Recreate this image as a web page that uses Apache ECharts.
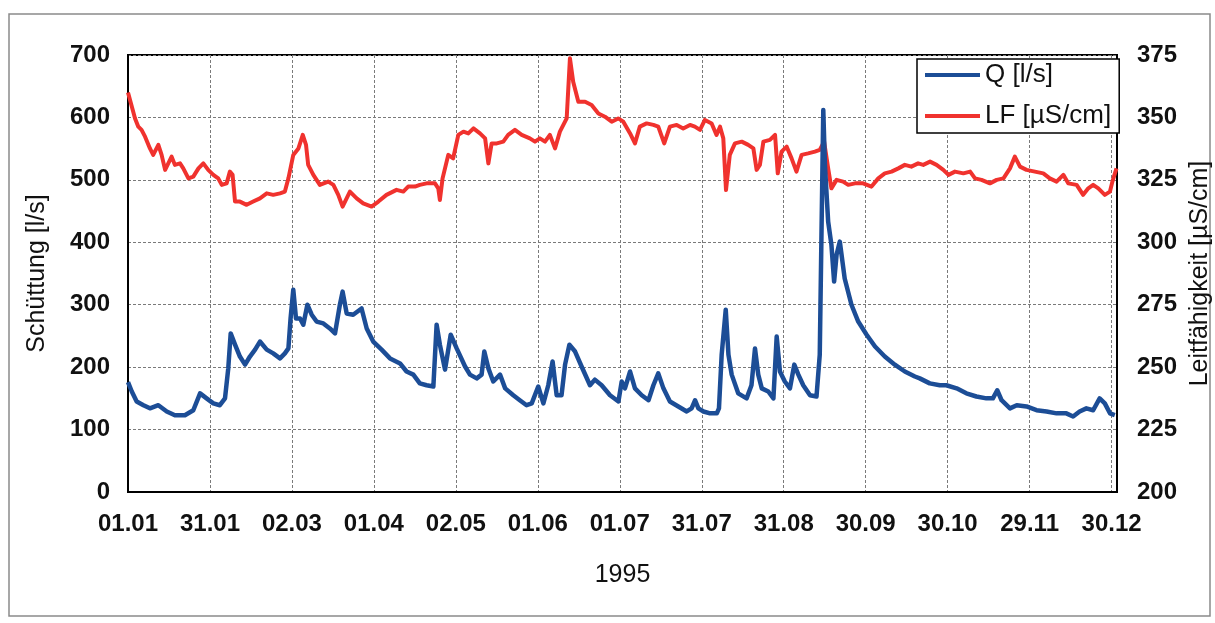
<!DOCTYPE html>
<html>
<head>
<meta charset="utf-8">
<title>Schüttung und Leitfähigkeit 1995</title>
<script src="https://cdn.jsdelivr.net/npm/echarts@6/dist/echarts.min.js"></script>
<style>
  html, body { margin: 0; padding: 0; background: #fff; }
  #chart { width: 1215px; height: 623px; }
</style>
</head>
<body>
<div id="chart"></div>
<script>
var qDays = [0, 1.4, 3.2, 5.7, 8.1, 11.2, 14.3, 17.3, 21, 24.1, 26.6, 29, 31.5, 33.9, 35.8, 37, 37.9, 39.5, 41.3, 43.2,
  45, 46.9, 48.7, 51.2, 53.6, 56.1, 57.9, 59.2, 60, 61, 62, 63.5, 64.7, 66.2, 67.8, 69.6, 72.1, 74.5, 76.4, 78.2,
  79.2, 80.7, 83.1, 86.2, 88.1, 90.5, 93.6, 96.7, 100.4, 102.8, 105.3, 107.7, 110.2, 112.7, 113.9, 115.1, 117, 119.1, 121.3, 124.4,
  126.2, 128.7, 130.5, 131.5, 133, 134.8, 137.3, 139.2, 142.2, 144.6, 147.1, 149, 151.4, 153.3, 155.1, 156.7, 158.2, 160, 161.3, 162.9,
  165, 167.4, 170.5, 172.3, 174.8, 177.9, 181, 182.2, 183.4, 185.3, 187.1, 189.6, 192.1, 193.9, 195.7, 197.6, 200, 203.1, 206.2, 208,
  209.3, 210.5, 212.4, 214.8, 217.3, 218.1, 219.1, 220.6, 221.6, 222.8, 225.2, 228.3, 230.1, 231.4, 232.6, 233.9, 236.3, 238.2, 239.4, 240.6,
  242.4, 244.3, 245.9, 247.4, 249.2, 251.7, 254.1, 255.3, 256, 256.6, 257.2, 258.4, 259.6, 260.6, 261.5, 262.7, 264.5, 267, 269.5, 272.6,
  275.7, 279.3, 283, 286.7, 290.4, 292.2, 295.9, 299.6, 302, 305.8, 309.4, 313.1, 316.8, 319.2, 320.8, 322.4, 325.5, 328, 331.6, 335.3,
  339, 342.7, 346.3, 348.8, 351.2, 353.7, 356.2, 358.6, 360.5, 362.4, 364.2];
var qValues = [176, 161, 145, 139, 134, 139, 129, 123, 123, 131, 158, 150, 142, 139, 150, 198, 254, 236, 217, 204,
  217, 228, 241, 228, 222, 214, 222, 230, 278, 324, 278, 278, 268, 300, 284, 273, 270, 262, 254, 300,
  321, 286, 284, 294, 262, 241, 228, 214, 206, 193, 188, 174, 171, 169, 268, 236, 196, 252, 230, 201,
  188, 182, 188, 225, 198, 177, 188, 166, 155, 147, 139, 142, 169, 142, 171, 209, 155, 155, 204, 236,
  225, 201, 171, 180, 171, 155, 145, 177, 166, 193, 166, 155, 147, 171, 190, 166, 145, 137, 129, 134,
  147, 134, 129, 126, 126, 134, 220, 292, 220, 188, 158, 150, 171, 230, 188, 166, 161, 150, 249, 193,
  177, 166, 204, 188, 171, 155, 153, 220, 433, 612, 524, 433, 396, 337, 380, 401, 342, 300, 273, 252,
  233, 217, 204, 193, 185, 182, 174, 171, 171, 166, 158, 153, 150, 150, 163, 147, 134, 139, 137, 131,
  129, 126, 126, 121, 129, 134, 131, 150, 142, 126, 123];

var lfDays = [0, 0.7, 2.6, 3.8, 5, 6.3, 8.1, 9.3, 11.2, 12.4, 13.7, 16.1, 17.3, 19.2, 20.4, 22.3, 24.1, 26, 27.8, 29.6,
  31.5, 33.3, 34.6, 36.4, 37.6, 38.6, 39.5, 41.3, 43.8, 46.2, 48.7, 51.2, 53.6, 56.1, 57.9, 59.2, 61, 62.9, 64.5, 65.7,
  66.5, 68.4, 70.8, 73.9, 75.8, 77.6, 79.2, 81.9, 84.4, 86.8, 89.9, 92.4, 95.4, 99.1, 101.6, 103.4, 105.9, 107.7, 110.2, 113.3,
  114.5, 115.1, 116.1, 118.2, 120, 121.9, 123.8, 125.6, 127.5, 129.9, 131.8, 133, 134.2, 136.1, 138.5, 140.3, 142.8, 145.3, 148.3, 150.2,
  152, 153.9, 155.7, 157.6, 159.4, 161.9, 163.1, 164.3, 166.2, 168.7, 171.1, 173.6, 176, 178.5, 180.9, 182.8, 185.3, 187.1, 188.9, 191.4,
  193.9, 195.7, 197.9, 200, 202.5, 204.9, 207.4, 209.2, 211.1, 212.9, 215.4, 217.2, 218.5, 219.7, 220.7, 222.1, 224, 226.5, 228.9, 230.8,
  232, 233.2, 234.5, 236.9, 238.8, 239.8, 241.2, 243.1, 244.9, 246.7, 248.6, 251, 253.5, 255.3, 256.9, 258.4, 259.6, 261.5, 263.9, 265.8,
  268.3, 271.3, 274.4, 276.9, 279.3, 281.8, 284.3, 286.7, 289.1, 291.6, 293.5, 296, 298.4, 300.9, 302.8, 305.2, 308.3, 310.8, 312.6, 315,
  318.1, 320.6, 323.1, 325.5, 327.3, 329.2, 331.6, 334.7, 337.8, 340.2, 342.7, 345.2, 347, 350.1, 352.5, 354.4, 356.2, 358.1, 360.5, 362.4,
  363.3, 364.8];
var lfValues = [360, 360, 349.6, 346.3, 345, 342.3, 337.6, 335, 339, 335, 329, 334.3, 331, 331.6, 329.6, 325.6, 326.3, 329.6, 331.6, 329,
  327, 325.6, 323, 323.6, 328.3, 327, 316.3, 316.3, 315, 316.3, 317.6, 319.6, 319, 319.6, 320.3, 325.6, 335, 337.6, 343, 339,
  331, 327, 323, 324.3, 323, 319, 314.3, 320.3, 317.6, 315.6, 314.3, 316.3, 319, 321, 320.3, 322.3, 322.3, 323, 323.6, 323.6,
  321.6, 316.9, 325.6, 335, 333.6, 343, 344.3, 343.6, 345.6, 343.6, 341.6, 331.6, 339.6, 339.6, 340.3, 343, 345, 343, 341.6, 340.3,
  341.6, 340.3, 343, 337.6, 344.3, 349.6, 373.7, 364.3, 356.3, 356.3, 355, 351.6, 350.3, 348.3, 349.6, 348.3, 343.6, 339.6, 346.3, 347.6,
  347, 346.3, 339.6, 346.3, 347, 345.6, 347, 346.3, 345, 349, 347.6, 343, 346.3, 341.6, 320.9, 335, 339.6, 340.3, 339, 337.6,
  329, 331, 340.3, 341, 343, 327.6, 336.3, 338.3, 333.6, 328.3, 335, 335.6, 336.3, 337, 340.3, 329.6, 321.6, 325, 324.3, 323,
  323.6, 323.6, 322.3, 325.6, 327.6, 328.3, 329.6, 331, 330.3, 331.6, 331, 332.3, 331, 329, 327, 328.3, 327.6, 328.3, 325.6, 325,
  323.6, 325, 325.6, 329.6, 334.3, 330.3, 329, 328.3, 327.6, 325.6, 324.3, 327, 323.6, 323, 319, 321.6, 323, 321.6, 319, 320.3,
  324.3, 329.6];

var seriesNames = ['Q [l/s]', 'LF [µS/cm]'];
var seriesColors = ['#1c4d96', '#f0322e'];

document.addEventListener('DOMContentLoaded', function () {
  var myChart = echarts.init(document.getElementById('chart'), null, { renderer: 'canvas' });

  function pairs(xs, ys) {
    var out = [];
    for (var i = 0; i < xs.length; i++) out.push([xs[i], ys[i]]);
    return out;
  }
  function two(n) { return (n < 10 ? '0' : '') + n; }
  // Achsenwert (Tag) -> "dd.mm"
  function dayLabel(v) {
    if (v > 364) return '';
    var d = new Date(1995, 0, 1 + Math.floor(v + 1e-6));
    return two(d.getDate()) + '.' + two(d.getMonth() + 1);
  }

  var font = "'Liberation Sans', Arial, sans-serif";
  var gridLine = { show: true, lineStyle: { color: '#7a7a7a', width: 1, type: [3, 2] } };

  var option = {
    animation: false,
    backgroundColor: '#fff',
    textStyle: { fontFamily: font, color: '#111' },
    graphic: [{
      type: 'rect',
      shape: { x: 9, y: 14, width: 1201, height: 602 },
      style: { fill: 'none', stroke: '#8a8a8a', lineWidth: 1.5 },
      silent: true
    }],
    grid: {
      left: 128, right: 98, top: 55, bottom: 131,
      show: true, borderColor: '#000', borderWidth: 2,
      outerBoundsMode: 'none'
    },
    legend: {
      orient: 'vertical',
      left: 917, top: 59,
      data: seriesNames,
      icon: 'rect',
      itemWidth: 55, itemHeight: 4, itemGap: 15,
      padding: [3, 8, 4, 8],
      backgroundColor: '#fff',
      borderColor: '#000', borderWidth: 1.5,
      textStyle: { fontSize: 26, color: '#111', fontFamily: font }
    },
    xAxis: {
      type: 'value',
      min: 0, max: 365, interval: 30.25,
      name: '1995',
      nameLocation: 'middle', nameGap: 71,
      nameTextStyle: { fontSize: 25, color: '#111' },
      axisLine: { lineStyle: { color: '#000', width: 2 } },
      axisTick: { show: false },
      axisLabel: { formatter: dayLabel, fontSize: 24, fontWeight: 'bold', color: '#111', margin: 20, showMaxLabel: false },
      splitLine: gridLine
    },
    yAxis: [{
      type: 'value',
      min: 0, max: 700, interval: 100,
      name: 'Schüttung [l/s]',
      nameLocation: 'middle', nameGap: 78,
      nameTextStyle: { fontSize: 25, color: '#111' },
      axisLine: { show: true, lineStyle: { color: '#000', width: 2 } },
      axisTick: { show: false },
      axisLabel: { fontSize: 24, fontWeight: 'bold', color: '#111', margin: 18 },
      splitLine: gridLine
    }, {
      type: 'value',
      position: 'right',
      min: 200, max: 375, interval: 25,
      name: 'Leitfähigkeit [µS/cm]',
      nameLocation: 'middle', nameGap: 70,
      nameTextStyle: { fontSize: 25, color: '#111' },
      axisLine: { show: true, lineStyle: { color: '#000', width: 2 } },
      axisTick: { show: false },
      axisLabel: { fontSize: 24, fontWeight: 'bold', color: '#111', margin: 20 },
      splitLine: { show: false }
    }],
    series: [
      // LF zuerst, damit Q darueber liegt
      {
        name: seriesNames[1],
        type: 'line',
        yAxisIndex: 1,
        showSymbol: false,
        color: seriesColors[1],
        lineStyle: { color: seriesColors[1], width: 4, join: 'round' },
        data: pairs(lfDays, lfValues)
      },
      {
        name: seriesNames[0],
        type: 'line',
        yAxisIndex: 0,
        showSymbol: false,
        color: seriesColors[0],
        lineStyle: { color: seriesColors[0], width: 4.5, join: 'round' },
        data: pairs(qDays, qValues)
      }
    ]
  };

  myChart.setOption(option);

  window.addEventListener('resize', function () {
    myChart.resize();
  });
});
</script>
</body>
</html>
